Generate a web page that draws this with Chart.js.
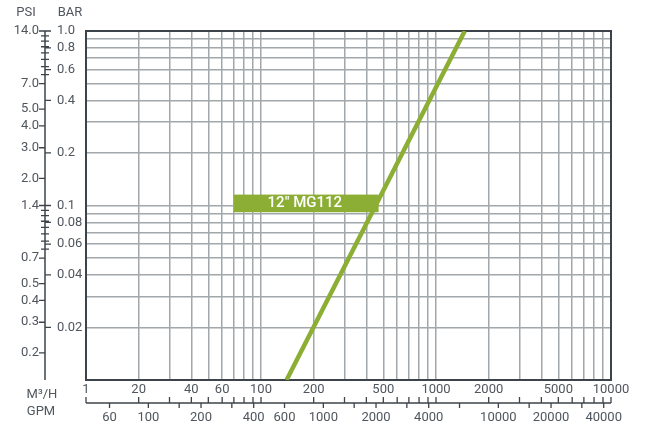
<!DOCTYPE html>
<html><head><meta charset="utf-8">
<script src="https://cdn.jsdelivr.net/npm/chart.js@4.4.1/dist/chart.umd.min.js"></script>
<style>html,body{margin:0;padding:0;background:#fff}canvas{display:block}</style>
</head><body>
<canvas id="c" width="646" height="428"></canvas>
<script>
// ---- data ----
const flowGrid = [10,20,30,40,50,60,70,80,90,100,200,300,400,500,600,700,800,900,1000,2000,3000,4000,5000,6000,7000,8000,9000,10000];
const barGrid = [0.01,0.02,0.03,0.04,0.05,0.06,0.07,0.08,0.09,0.1,0.2,0.3,0.4,0.5,0.6,0.7,0.8,0.9,1];
const m3hLabelValues = [10,20,40,60,100,200,500,1000,2000,5000,10000];
const m3hLabelTexts = ['1','20','40','60','100','200','500','1000','2000','5000','10000'];
const gpmTickValues = [60,100,150,200,300,400,600,1000,1500,2000,3000,4000,6000,10000,15000,20000,30000,40000];
const gpmLabelValues = [60,100,200,400,600,1000,2000,4000,10000,20000,40000];
const gpmLabelTexts = ['60','100','200','400','600','1000','2000','4000','10000','20000','40000'];
const psiLabelValues = [14,7,5,4,3,2,1.4,0.7,0.5,0.4,0.3,0.2];
const psiLabelTexts = ['14.0','7.0','5.0','4.0','3.0','2.0','1.4','0.7','0.5','0.4','0.3','0.2'];
const psiMinorTicks = [13.125,12.25,11.375,10.5,9.625,8.75,7.875,1.3125,1.225,1.1375,1.05,0.9625,0.875,0.7875];
const barLabelValues = [1,0.8,0.6,0.4,0.2,0.1,0.08,0.06,0.04,0.02];
const barLabelTexts = ['1.0','0.8','0.6','0.4','0.2','0.1','0.08','0.06','0.04','0.02'];
const curveFlow = [140, 1460];
const curveBar = [0.01, 1.0];
const seriesName = '12" MG112';
const labelBoxFlow = [70, 470];
const labelBoxBar = [0.0915, 0.1155];
const labelTextFlow = 178;
const labelTextBar = 0.103;

// ---- style ----
const GREEN = '#8cae34';
const GRID = '#a2a7ac';
const DARK = '#3d434a';
const TEXT = '#50565d';
const FONT = '13px Roboto, "DejaVu Sans", sans-serif';

const customAxes = {
  id: 'customAxes',
  beforeDatasetsDraw(chart) {
    const {ctx, scales: {x, y}} = chart;
    const x0 = x.getPixelForValue(labelBoxFlow[0]), x1 = x.getPixelForValue(labelBoxFlow[1]);
    const y0 = y.getPixelForValue(labelBoxBar[1]), y1 = y.getPixelForValue(labelBoxBar[0]);
    ctx.save();
    ctx.fillStyle = GREEN;
    ctx.fillRect(x0, y0, x1 - x0, y1 - y0);
    ctx.fillStyle = '#ffffff';
    ctx.font = '500 15px Roboto, "DejaVu Sans", sans-serif';
    ctx.textAlign = 'center';
    ctx.textBaseline = 'middle';
    ctx.fillText(seriesName, x.getPixelForValue(labelTextFlow), y.getPixelForValue(labelTextBar));
    ctx.restore();
  },
  afterDraw(chart) {
    const {ctx, chartArea: ca, scales: {x, y, psi, gpm}} = chart;
    const axX = ca.left - 41;
    const axY = ca.bottom + 23;
    ctx.save();
    ctx.strokeStyle = DARK;
    ctx.lineWidth = 1.5;
    // left axis line
    ctx.beginPath(); ctx.moveTo(axX, ca.top); ctx.lineTo(axX, ca.bottom); ctx.stroke();
    // bottom axis line
    ctx.beginPath(); ctx.moveTo(ca.left, axY); ctx.lineTo(ca.right, axY); ctx.stroke();
    ctx.lineWidth = 1.3;
    ctx.beginPath();
    psiLabelValues.forEach(v => { const p = psi.getPixelForValue(v); ctx.moveTo(axX - 6, p); ctx.lineTo(axX, p); });
    psiMinorTicks.forEach(v => { const p = psi.getPixelForValue(v); ctx.moveTo(axX - 4, p); ctx.lineTo(axX + 4, p); });
    barLabelValues.forEach(v => { const p = y.getPixelForValue(v); ctx.moveTo(axX, p); ctx.lineTo(axX + 6, p); });
    flowGrid.forEach(v => { const p = x.getPixelForValue(v); ctx.moveTo(p, axY - 6); ctx.lineTo(p, axY); });
    gpmTickValues.forEach(v => { const p = gpm.getPixelForValue(v); ctx.moveTo(p, axY); ctx.lineTo(p, axY + 5); });
    ctx.stroke();

    ctx.fillStyle = TEXT;
    ctx.font = FONT;
    ctx.textBaseline = 'middle';
    ctx.textAlign = 'right';
    psiLabelValues.forEach((v, i) => ctx.fillText(psiLabelTexts[i], axX - 6, psi.getPixelForValue(v)));
    ctx.textAlign = 'left';
    barLabelValues.forEach((v, i) => ctx.fillText(barLabelTexts[i], axX + 12, y.getPixelForValue(v)));
    ctx.textAlign = 'center';
    m3hLabelValues.forEach((v, i) => ctx.fillText(m3hLabelTexts[i], x.getPixelForValue(v), axY - 13));
    gpmLabelValues.forEach((v, i) => ctx.fillText(gpmLabelTexts[i], gpm.getPixelForValue(v), axY + 15));
    // axis titles
    ctx.fillText('PSI', axX - 19, ca.top - 18);
    ctx.fillText('BAR', axX + 25, ca.top - 18);
    ctx.fillText('M³/H', axX - 3, axY - 8);
    ctx.fillText('GPM', axX - 4, axY + 9);
    ctx.restore();
  }
};

const gridScale = (vals) => (scale) => { scale.ticks = vals.map(v => ({value: v})); };

new Chart(document.getElementById('c'), {
  type: 'line',
  data: {
    datasets: [{
      label: seriesName,
      data: curveFlow.map((f, i) => ({x: f, y: curveBar[i]})),
      borderColor: GREEN,
      borderWidth: 4.5,
      pointRadius: 0,
      fill: false,
      tension: 0
    }]
  },
  options: {
    responsive: false,
    animation: false,
    devicePixelRatio: 1,
    layout: {padding: {left: 86, top: 31, right: 35, bottom: 48}},
    plugins: {legend: {display: false}, tooltip: {enabled: false}},
    scales: {
      x: {
        type: 'logarithmic', position: 'bottom', min: 10, max: 10000,
        afterBuildTicks: gridScale(flowGrid),
        ticks: {display: false},
        grid: {color: GRID, lineWidth: 1.5, drawTicks: false},
        border: {display: true, color: DARK, width: 2}
      },
      y: {
        type: 'logarithmic', position: 'left', min: 0.01, max: 1,
        afterBuildTicks: gridScale(barGrid),
        ticks: {display: false},
        grid: {color: GRID, lineWidth: 1.5, drawTicks: false},
        border: {display: true, color: DARK, width: 2}
      },
      xTop: {
        type: 'linear', position: 'top', min: 0, max: 1,
        ticks: {display: false},
        grid: {display: false, drawTicks: false},
        border: {display: true, color: DARK, width: 2}
      },
      yRight: {
        type: 'linear', position: 'right', min: 0, max: 1,
        ticks: {display: false},
        grid: {display: false, drawTicks: false},
        border: {display: true, color: DARK, width: 2}
      },
      psi: {
        type: 'logarithmic', position: 'left', min: 0.14, max: 14, display: false
      },
      gpm: {
        type: 'logarithmic', position: 'bottom', min: 44.03, max: 44030, display: false
      }
    }
  },
  plugins: [customAxes]
});
</script>
</body></html>
